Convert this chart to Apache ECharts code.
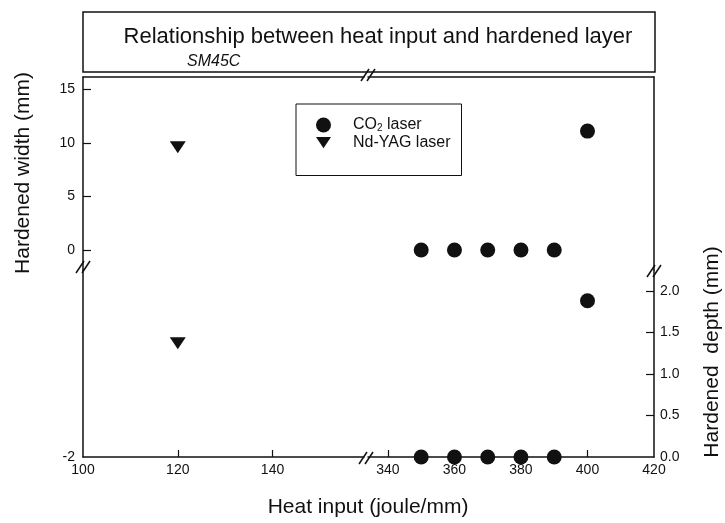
<!DOCTYPE html>
<html><head><meta charset="utf-8">
<script src="https://cdn.jsdelivr.net/npm/echarts@6/dist/echarts.min.js"></script>
<style>html,body{margin:0;padding:0;background:#fff}#c{width:725px;height:523px}</style>
</head><body><div id="c"></div>
<script>
// ---- data ----
const co2Input = [350, 360, 370, 380, 390, 400];
const co2Width = [0, 0, 0, 0, 0, 11.1];
const co2Depth = [0, 0, 0, 0, 0, 1.88];
const ndInput = [120];
const ndWidth = [9.6];
const ndDepth = [1.37];
const xLabelsLeft = [100, 120, 140];
const xTicksLeft = [120, 140];
const xLabelsRight = [340, 360, 380, 400, 420];
const xTicksRight = [340, 360, 380, 400];
const widthTicks = [0, 5, 10, 15];
const depthLabels = [0, 0.5, 1, 1.5, 2];
const depthTicks = [0.5, 1, 1.5, 2];
const lowerLeftLabels = [-2];

const FONT = "'Liberation Sans', Arial, Helvetica, sans-serif";
const L = 83, R = 654, T = 77, M = 270, B = 457, BL = 364, BR = 368;
const INK = '#111';
const tri = 'path://M0,0 L16,0 L8,12 Z';

const zip = (a, b) => a.map((v, i) => [v, b[i]]);

const axisLineStyle = { show: true, onZero: false, lineStyle: { color: INK, width: 1.5 } };
const labelStyle = { color: INK, fontFamily: FONT, fontSize: 14 };

function brk(cx, cy) {
  return {
    type: 'group', x: cx, y: cy, z: 100,
    children: [
      { type: 'line', shape: { x1: -7, y1: 6, x2: 1, y2: -6 }, style: { stroke: INK, lineWidth: 1.5 } },
      { type: 'line', shape: { x1: -1, y1: 6, x2: 7, y2: -6 }, style: { stroke: INK, lineWidth: 1.5 } }
    ]
  };
}

const chart = echarts.init(document.getElementById('c'), null, { renderer: 'canvas' });

const option = {
  backgroundColor: '#fff',
  animation: false,
  grid: [
    { left: L, top: T, width: BL - L, height: M - T },
    { left: BR, top: T, width: R - BR, height: M - T },
    { left: L, top: M, width: BL - L, height: B - M },
    { left: BR, top: M, width: R - BR, height: B - M }
  ],
  xAxis: [
    { gridIndex: 0, type: 'value', position: 'top', min: 100, max: 159.3, axisLine: axisLineStyle,
      axisTick: { show: false }, axisLabel: { show: false }, splitLine: { show: false } },
    { gridIndex: 1, type: 'value', position: 'top', min: 334, max: 420, axisLine: axisLineStyle,
      axisTick: { show: false }, axisLabel: { show: false }, splitLine: { show: false } },
    { gridIndex: 2, type: 'value', position: 'bottom', min: 100, max: 159.3, axisLine: axisLineStyle,
      axisTick: { show: true, inside: true, length: 7, lineStyle: { color: INK, width: 1.2 }, customValues: xTicksLeft },
      axisLabel: Object.assign({ margin: 6, customValues: xLabelsLeft }, labelStyle), splitLine: { show: false } },
    { gridIndex: 3, type: 'value', position: 'bottom', min: 334, max: 420, axisLine: axisLineStyle,
      axisTick: { show: true, inside: true, length: 7, lineStyle: { color: INK, width: 1.2 }, customValues: xTicksRight },
      axisLabel: Object.assign({ margin: 6, customValues: xLabelsRight }, labelStyle), splitLine: { show: false } }
  ],
  yAxis: [
    { gridIndex: 0, type: 'value', position: 'left', min: -1.87, max: 16.15, axisLine: axisLineStyle,
      axisTick: { show: true, inside: true, length: 8, lineStyle: { color: INK, width: 1.2 }, customValues: widthTicks },
      axisLabel: Object.assign({ margin: 8, customValues: widthTicks }, labelStyle), splitLine: { show: false } },
    { gridIndex: 1, type: 'value', position: 'right', min: -1.87, max: 16.15, axisLine: axisLineStyle,
      axisTick: { show: false }, axisLabel: { show: false }, splitLine: { show: false } },
    { gridIndex: 2, type: 'value', position: 'left', min: -2, max: -1.8, axisLine: axisLineStyle,
      axisTick: { show: false },
      axisLabel: Object.assign({ margin: 8, customValues: lowerLeftLabels }, labelStyle), splitLine: { show: false } },
    { gridIndex: 2, type: 'value', position: 'right', min: 0, max: 2.25, show: false, splitLine: { show: false } },
    { gridIndex: 3, type: 'value', position: 'right', min: 0, max: 2.25, axisLine: axisLineStyle,
      axisTick: { show: true, inside: true, length: 8, lineStyle: { color: INK, width: 1.2 }, customValues: depthTicks },
      axisLabel: Object.assign({ margin: 6, customValues: depthLabels, formatter: v => Number(v).toFixed(1) }, labelStyle),
      splitLine: { show: false } }
  ],
  legend: {
    selectedMode: false,
    orient: 'vertical',
    left: 296, top: 104,
    itemWidth: 15, itemHeight: 15, itemGap: 1,
    padding: [13, 11, 25, 20],
    borderColor: INK, borderWidth: 1, borderRadius: 0,
    data: [{ name: 'CO2 laser', icon: 'circle' }, { name: 'Nd-YAG laser', icon: tri }],
    formatter: n => n === 'CO2 laser' ? '{t|CO}{s|2}{t| laser}' : '{t|Nd-YAG laser}',
    textStyle: {
      color: INK, fontFamily: FONT, fontSize: 16, padding: [0, 0, 0, 17],
      rich: {
        t: { fontFamily: FONT, fontSize: 16, color: INK, lineHeight: 17 },
        s: { fontFamily: FONT, fontSize: 10, color: INK, lineHeight: 17, verticalAlign: 'bottom' }
      }
    }
  },
  series: [
    { name: 'CO2 laser', type: 'scatter', xAxisIndex: 1, yAxisIndex: 1, data: zip(co2Input, co2Width),
      symbol: 'circle', symbolSize: 15, itemStyle: { color: INK, opacity: 1 }, clip: false, z: 5 },
    { name: 'CO2 laser', type: 'scatter', xAxisIndex: 3, yAxisIndex: 4, data: zip(co2Input, co2Depth),
      symbol: 'circle', symbolSize: 15, itemStyle: { color: INK, opacity: 1 }, clip: false, z: 5 },
    { name: 'Nd-YAG laser', type: 'scatter', xAxisIndex: 0, yAxisIndex: 0, data: zip(ndInput, ndWidth),
      symbol: tri, symbolSize: [16, 12], itemStyle: { color: INK, opacity: 1 }, clip: false, z: 5 },
    { name: 'Nd-YAG laser', type: 'scatter', xAxisIndex: 2, yAxisIndex: 3, data: zip(ndInput, ndDepth),
      symbol: tri, symbolSize: [16, 12], itemStyle: { color: INK, opacity: 1 }, clip: false, z: 5 }
  ],
  graphic: [
    { type: 'rect', shape: { x: 83, y: 12, width: 572, height: 60 }, style: { fill: 'none', stroke: INK, lineWidth: 1.5 }, z: 50 },
    { type: 'text', x: 378, y: 37, z: 60, style: { text: 'Relationship between heat input and hardened layer',
      font: '22px ' + FONT, fill: INK, textAlign: 'center', textVerticalAlign: 'middle' } },
    { type: 'text', x: 187, y: 62, z: 60, style: { text: 'SM45C', font: 'italic 16px ' + FONT, fill: INK,
      textAlign: 'left', textVerticalAlign: 'middle' } },
    { type: 'text', x: 23, y: 173, rotation: Math.PI / 2, z: 60, style: { text: 'Hardened width (mm)',
      font: '21px ' + FONT, fill: INK, textAlign: 'center', textVerticalAlign: 'middle' } },
    { type: 'text', x: 712, y: 352, rotation: Math.PI / 2, z: 60, style: { text: 'Hardened  depth (mm)',
      font: '21px ' + FONT, fill: INK, textAlign: 'center', textVerticalAlign: 'middle' } },
    { type: 'text', x: 368, y: 507, z: 60, style: { text: 'Heat input (joule/mm)',
      font: '21px ' + FONT, fill: INK, textAlign: 'center', textVerticalAlign: 'middle' } },
    brk(83, 267), brk(654, 271), brk(366, 458), brk(368, 75)
  ]
};
chart.setOption(option);
</script>
</body></html>
